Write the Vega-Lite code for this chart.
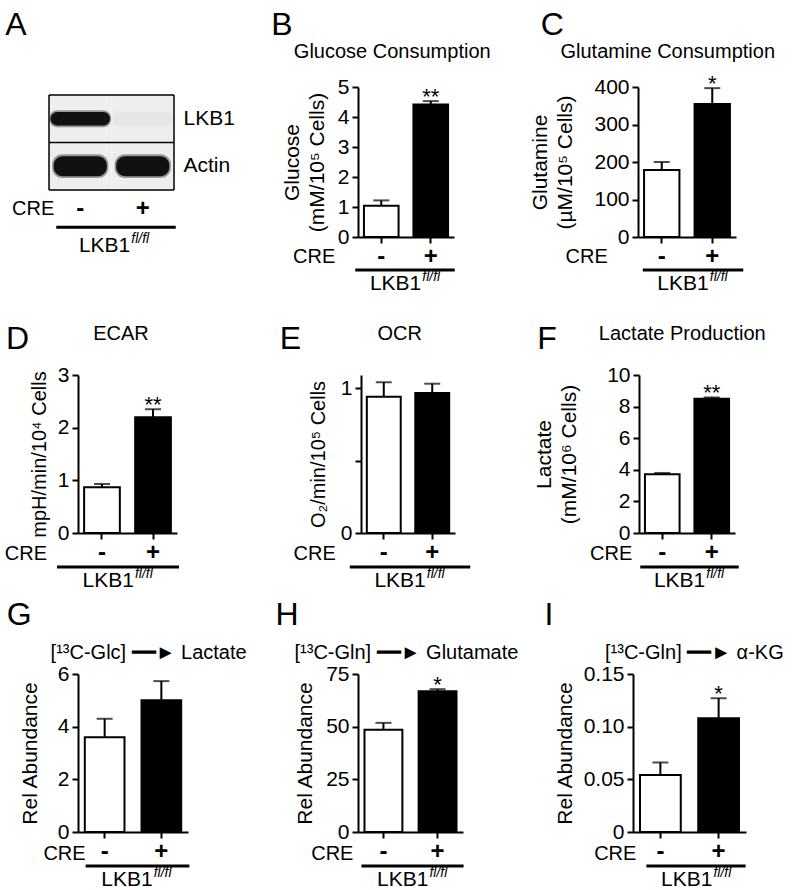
{
"$schema": "https://vega.github.io/schema/vega-lite/v6.json",
"background": "white",
"padding": {"left": 4, "top": 9, "right": 2, "bottom": 2},
"config": {
  "font": "Liberation Sans",
  "view": {"stroke": null},
  "text": {"color": "black", "font": "Liberation Sans"},
  "axis": {"grid": false, "domainColor": "black", "domainWidth": 2, "tickColor": "black", "tickWidth": 2, "tickSize": 6, "labelColor": "black", "titleColor": "black", "titleFontWeight": "normal", "labelFont": "Liberation Sans", "titleFont": "Liberation Sans", "labelOverlap": false, "labelFlush": false},
  "axisX": {"labelAngle": 0, "labelFontSize": 24, "labelFontWeight": "bold", "labelBaseline": "alphabetic", "labelPadding": 20},
  "axisY": {"labelFontSize": 21, "labelPadding": 3, "titleFontSize": 21, "titlePadding": 16, "titleLineHeight": 25}
},
"datasets": {
  "bars": [
    {"panel": "B", "cre": "-", "value": 1.04, "err": 1.22, "sig": ""},
    {"panel": "B", "cre": "+", "value": 4.42, "err": 4.53, "sig": "**"},
    {"panel": "C", "cre": "-", "value": 179, "err": 200, "sig": ""},
    {"panel": "C", "cre": "+", "value": 355, "err": 397, "sig": "*"},
    {"panel": "D", "cre": "-", "value": 0.87, "err": 0.93, "sig": ""},
    {"panel": "D", "cre": "+", "value": 2.2, "err": 2.35, "sig": "**"},
    {"panel": "E", "cre": "-", "value": 0.94, "err": 1.04, "sig": ""},
    {"panel": "E", "cre": "+", "value": 0.965, "err": 1.03, "sig": ""},
    {"panel": "F", "cre": "-", "value": 3.72, "err": 3.8, "sig": ""},
    {"panel": "F", "cre": "+", "value": 8.5, "err": 8.58, "sig": "**"},
    {"panel": "G", "cre": "-", "value": 3.6, "err": 4.3, "sig": ""},
    {"panel": "G", "cre": "+", "value": 5.0, "err": 5.73, "sig": ""},
    {"panel": "H", "cre": "-", "value": 48.5, "err": 51.8, "sig": ""},
    {"panel": "H", "cre": "+", "value": 66.8, "err": 67.8, "sig": "*"},
    {"panel": "I", "cre": "-", "value": 0.054, "err": 0.066, "sig": ""},
    {"panel": "I", "cre": "+", "value": 0.108, "err": 0.127, "sig": "*"}
  ],
  "blot": [
    {"protein": "LKB1", "cre": "-", "signal": 1},
    {"protein": "LKB1", "cre": "+", "signal": 0.03},
    {"protein": "Actin", "cre": "-", "signal": 1},
    {"protein": "Actin", "cre": "+", "signal": 1}
  ]
},
"bounds": "full",
"spacing": 29,
"vconcat": [
{
"bounds": "full",
"spacing": 10,
"vconcat": [
{
"bounds": "flush",
"spacing": 184,
"hconcat": [
{
  "width": 96, "height": 103,
  "layer": [
    {
      "data": {"name": "blot"},
      "encoding": {
        "x": {"field": "cre", "type": "nominal", "scale": {"domain": ["-", "+"], "range": [-29, 96], "paddingInner": 0, "paddingOuter": 0}, "axis": {"title": null, "domain": false, "ticks": false, "tickSize": 0, "labelPadding": 25}},
        "y": {"field": "protein", "type": "nominal", "scale": {"domain": ["LKB1", "Actin"], "paddingInner": 0, "paddingOuter": 0.084, "align": 1}, "axis": {"orient": "right", "title": null, "domain": false, "ticks": false, "tickSize": 0, "labelPadding": 9, "labelFontSize": 21, "labelAlign": "left"}}
      },
      "layer": [
        {"mark": {"type": "rect", "fill": "#eeeeee"}},
        {"transform": [{"filter": "datum.protein == 'LKB1'"}],
         "mark": {"type": "rect", "cornerRadius": 8, "width": {"band": 0.99}, "height": {"band": 0.36}, "opacity": 0.4},
         "encoding": {"fill": {"field": "signal", "type": "quantitative", "scale": {"domain": [0, 1], "range": ["#eeeeee", "#111111"]}, "legend": null}}},
        {"transform": [{"filter": "datum.protein == 'LKB1'"}],
         "mark": {"type": "rect", "cornerRadius": 7, "width": {"band": 0.95}, "height": {"band": 0.28}},
         "encoding": {"fill": {"field": "signal", "type": "quantitative", "legend": null}}},
        {"transform": [{"filter": "datum.protein == 'Actin'"}],
         "mark": {"type": "rect", "cornerRadius": 10, "width": {"band": 0.9}, "height": {"band": 0.5}, "opacity": 0.4},
         "encoding": {"fill": {"field": "signal", "type": "quantitative", "legend": null}}},
        {"transform": [{"filter": "datum.protein == 'Actin'"}],
         "mark": {"type": "rect", "cornerRadius": 9, "width": {"band": 0.85}, "height": {"band": 0.42}},
         "encoding": {"fill": {"field": "signal", "type": "quantitative", "legend": null}}}
      ]
    },
    {
      "data": {"values": [{"letter": "A", "crelab": "CRE", "geno": "LKB1", "sup": "fl/fl"}]},
      "layer": [
        {"mark": {"type": "rule", "color": "black", "strokeWidth": 1.5, "xOffset": -31.25, "x2Offset": 31.25, "yOffset": -23.75}, "encoding": {"x": {"datum": "-"}, "x2": {"datum": "+"}, "y": {"datum": "LKB1"}}},
        {"mark": {"type": "rule", "color": "black", "strokeWidth": 1.5, "xOffset": -31.25, "x2Offset": 31.25, "yOffset": -23.75}, "encoding": {"x": {"datum": "-"}, "x2": {"datum": "+"}, "y": {"datum": "Actin"}}},
        {"mark": {"type": "rule", "color": "black", "strokeWidth": 1.5, "xOffset": -31.25, "x2Offset": 31.25, "yOffset": 23.75}, "encoding": {"x": {"datum": "-"}, "x2": {"datum": "+"}, "y": {"datum": "Actin"}}},
        {"mark": {"type": "rule", "color": "black", "strokeWidth": 1.5, "xOffset": -31.25, "yOffset": -23.75, "y2Offset": 23.75}, "encoding": {"x": {"datum": "-"}, "y": {"datum": "LKB1"}, "y2": {"datum": "Actin"}}},
        {"mark": {"type": "rule", "color": "black", "strokeWidth": 1.5, "xOffset": 31.25, "yOffset": -23.75, "y2Offset": 23.75}, "encoding": {"x": {"datum": "+"}, "y": {"datum": "LKB1"}, "y2": {"datum": "Actin"}}},
        {"mark": {"type": "text", "fontSize": 32, "align": "left", "baseline": "alphabetic", "dx": -75, "dy": -131}, "encoding": {"x": {"datum": "-"}, "y": {"datum": "Actin"}, "text": {"field": "letter"}}},
        {"mark": {"type": "text", "fontSize": 20, "align": "right", "baseline": "alphabetic", "dx": -26, "dy": 49}, "encoding": {"x": {"datum": "-"}, "y": {"datum": "Actin"}, "text": {"field": "crelab"}}},
        {"mark": {"type": "rule", "color": "black", "strokeWidth": 3, "xOffset": -24, "x2Offset": 33, "yOffset": 61}, "encoding": {"x": {"datum": "-"}, "x2": {"datum": "+"}, "y": {"datum": "Actin"}}},
        {"mark": {"type": "text", "fontSize": 21, "align": "right", "baseline": "alphabetic", "dx": 50, "dy": 86}, "encoding": {"x": {"datum": "-"}, "y": {"datum": "Actin"}, "text": {"field": "geno"}}},
        {"mark": {"type": "text", "fontSize": 14, "fontStyle": "italic", "align": "left", "baseline": "alphabetic", "dx": 51, "dy": 77}, "encoding": {"x": {"datum": "-"}, "y": {"datum": "Actin"}, "text": {"field": "sup"}}}
      ]
    }
  ]
},
{
  "width": 96, "height": 150,
  "layer": [
    {
      "data": {"name": "bars"},
      "transform": [{"filter": "datum.panel == 'B'"}],
      "encoding": {"x": {"field": "cre", "type": "nominal", "sort": null, "scale": {"domain": ["-", "+"], "paddingInner": 0.3, "paddingOuter": 0.12}, "axis": {"title": null}}},
      "layer": [
        {"mark": {"type": "bar", "stroke": "black", "strokeWidth": 2},
         "encoding": {"y": {"field": "value", "type": "quantitative", "scale": {"domain": [0, 5], "nice": false}, "axis": {"values": [0, 1, 2, 3, 4, 5], "format": "d", "tickCount": 12, "labelOverlap": false, "titlePadding": 10, "title": ["Glucose", "(mM/10⁵ Cells)"]}},
                      "fill": {"field": "cre", "type": "nominal", "scale": {"domain": ["-", "+"], "range": ["white", "black"]}, "legend": null}}},
        {"mark": {"type": "rule", "color": "black", "strokeWidth": 2}, "encoding": {"y": {"field": "value", "type": "quantitative"}, "y2": {"field": "err"}}},
        {"mark": {"type": "tick", "color": "black", "thickness": 2, "size": 16}, "encoding": {"y": {"field": "err", "type": "quantitative"}}},
        {"mark": {"type": "text", "fontSize": 22, "baseline": "alphabetic", "dy": 3}, "encoding": {"y": {"field": "err", "type": "quantitative"}, "text": {"field": "sig"}}}
      ]
    },
    {
      "data": {"values": [{"letter": "B", "heading": "Glucose Consumption", "crelab": "CRE", "geno": "LKB1", "sup": "fl/fl"}]},
      "layer": [
        {"mark": {"type": "text", "fontSize": 32, "align": "left", "baseline": "alphabetic", "dx": -110, "dy": -52}, "encoding": {"x": {"datum": "-"}, "y": {"datum": 5}, "text": {"field": "letter"}}},
        {"mark": {"type": "text", "fontSize": 20, "align": "center", "baseline": "alphabetic", "dx": 11, "dy": -29}, "encoding": {"x": {"datum": "-"}, "y": {"datum": 5}, "text": {"field": "heading"}}},
        {"mark": {"type": "text", "fontSize": 20, "align": "right", "baseline": "alphabetic", "dx": -46, "dy": 26}, "encoding": {"x": {"datum": "-"}, "y": {"datum": 0}, "text": {"field": "crelab"}}},
        {"mark": {"type": "rule", "color": "black", "strokeWidth": 3, "xOffset": -26, "x2Offset": 24, "yOffset": 33}, "encoding": {"x": {"datum": "-"}, "x2": {"datum": "+"}, "y": {"datum": 0}}},
        {"mark": {"type": "text", "fontSize": 21, "align": "right", "baseline": "alphabetic", "dx": 40, "dy": 53}, "encoding": {"x": {"datum": "-"}, "y": {"datum": 0}, "text": {"field": "geno"}}},
        {"mark": {"type": "text", "fontSize": 14, "fontStyle": "italic", "align": "left", "baseline": "alphabetic", "dx": 41, "dy": 44}, "encoding": {"x": {"datum": "-"}, "y": {"datum": 0}, "text": {"field": "sup"}}}
      ]
    }
  ]
},
{
  "width": 98, "height": 150,
  "layer": [
    {
      "data": {"name": "bars"},
      "transform": [{"filter": "datum.panel == 'C'"}],
      "encoding": {"x": {"field": "cre", "type": "nominal", "sort": null, "scale": {"domain": ["-", "+"], "paddingInner": 0.3, "paddingOuter": 0.12}, "axis": {"title": null}}},
      "layer": [
        {"mark": {"type": "bar", "stroke": "black", "strokeWidth": 2},
         "encoding": {"y": {"field": "value", "type": "quantitative", "scale": {"domain": [0, 400], "nice": false}, "axis": {"values": [0, 100, 200, 300, 400], "format": "d", "tickCount": 12, "labelOverlap": false, "titlePadding": 18, "title": ["Glutamine", "(µM/10⁵ Cells)"]}},
                      "fill": {"field": "cre", "type": "nominal", "scale": {"domain": ["-", "+"], "range": ["white", "black"]}, "legend": null}}},
        {"mark": {"type": "rule", "color": "black", "strokeWidth": 2}, "encoding": {"y": {"field": "value", "type": "quantitative"}, "y2": {"field": "err"}}},
        {"mark": {"type": "tick", "color": "black", "thickness": 2, "size": 16}, "encoding": {"y": {"field": "err", "type": "quantitative"}}},
        {"mark": {"type": "text", "fontSize": 22, "baseline": "alphabetic", "dy": 3}, "encoding": {"y": {"field": "err", "type": "quantitative"}, "text": {"field": "sig"}}}
      ]
    },
    {
      "data": {"values": [{"letter": "C", "heading": "Glutamine Consumption", "crelab": "CRE", "geno": "LKB1", "sup": "fl/fl"}]},
      "layer": [
        {"mark": {"type": "text", "fontSize": 32, "align": "left", "baseline": "alphabetic", "dx": -121, "dy": -52}, "encoding": {"x": {"datum": "-"}, "y": {"datum": 400}, "text": {"field": "letter"}}},
        {"mark": {"type": "text", "fontSize": 20, "align": "center", "baseline": "alphabetic", "dx": 6, "dy": -29}, "encoding": {"x": {"datum": "-"}, "y": {"datum": 400}, "text": {"field": "heading"}}},
        {"mark": {"type": "text", "fontSize": 20, "align": "right", "baseline": "alphabetic", "dx": -54, "dy": 26}, "encoding": {"x": {"datum": "-"}, "y": {"datum": 0}, "text": {"field": "crelab"}}},
        {"mark": {"type": "rule", "color": "black", "strokeWidth": 3, "xOffset": -19, "x2Offset": 31, "yOffset": 33}, "encoding": {"x": {"datum": "-"}, "x2": {"datum": "+"}, "y": {"datum": 0}}},
        {"mark": {"type": "text", "fontSize": 21, "align": "right", "baseline": "alphabetic", "dx": 47, "dy": 53}, "encoding": {"x": {"datum": "-"}, "y": {"datum": 0}, "text": {"field": "geno"}}},
        {"mark": {"type": "text", "fontSize": 14, "fontStyle": "italic", "align": "left", "baseline": "alphabetic", "dx": 48, "dy": 44}, "encoding": {"x": {"datum": "-"}, "y": {"datum": 0}, "text": {"field": "sup"}}}
      ]
    }
  ]
}
]
}
]
},
{
"bounds": "full",
"spacing": 8,
"vconcat": [
{
"bounds": "flush",
"spacing": 184,
"hconcat": [
{
  "width": 99, "height": 158,
  "layer": [
    {
      "data": {"name": "bars"},
      "transform": [{"filter": "datum.panel == 'D'"}],
      "encoding": {"x": {"field": "cre", "type": "nominal", "sort": null, "scale": {"domain": ["-", "+"], "paddingInner": 0.3, "paddingOuter": 0.12}, "axis": {"title": null}}},
      "layer": [
        {"mark": {"type": "bar", "stroke": "black", "strokeWidth": 2},
         "encoding": {"y": {"field": "value", "type": "quantitative", "scale": {"domain": [0, 3], "nice": false}, "axis": {"values": [0, 1, 2, 3], "format": "d", "tickCount": 12, "labelOverlap": false, "titlePadding": 8, "titleFontSize": 20, "title": "mpH/min/10⁴ Cells"}},
                      "fill": {"field": "cre", "type": "nominal", "scale": {"domain": ["-", "+"], "range": ["white", "black"]}, "legend": null}}},
        {"mark": {"type": "rule", "color": "black", "strokeWidth": 2}, "encoding": {"y": {"field": "value", "type": "quantitative"}, "y2": {"field": "err"}}},
        {"mark": {"type": "tick", "color": "black", "thickness": 2, "size": 16}, "encoding": {"y": {"field": "err", "type": "quantitative"}}},
        {"mark": {"type": "text", "fontSize": 22, "baseline": "alphabetic", "dy": 3}, "encoding": {"y": {"field": "err", "type": "quantitative"}, "text": {"field": "sig"}}}
      ]
    },
    {
      "data": {"values": [{"letter": "D", "heading": "ECAR", "crelab": "CRE", "geno": "LKB1", "sup": "fl/fl"}]},
      "layer": [
        {"mark": {"type": "text", "fontSize": 32, "align": "left", "baseline": "alphabetic", "dx": -96, "dy": -26}, "encoding": {"x": {"datum": "-"}, "y": {"datum": 3}, "text": {"field": "letter"}}},
        {"mark": {"type": "text", "fontSize": 20, "align": "center", "baseline": "alphabetic", "dx": 19, "dy": -35}, "encoding": {"x": {"datum": "-"}, "y": {"datum": 3}, "text": {"field": "heading"}}},
        {"mark": {"type": "text", "fontSize": 20, "align": "right", "baseline": "alphabetic", "dx": -55, "dy": 27}, "encoding": {"x": {"datum": "-"}, "y": {"datum": 0}, "text": {"field": "crelab"}}},
        {"mark": {"type": "rule", "color": "black", "strokeWidth": 3, "xOffset": -45, "x2Offset": 26, "yOffset": 34}, "encoding": {"x": {"datum": "-"}, "x2": {"datum": "+"}, "y": {"datum": 0}}},
        {"mark": {"type": "text", "fontSize": 21, "align": "right", "baseline": "alphabetic", "dx": 32, "dy": 54}, "encoding": {"x": {"datum": "-"}, "y": {"datum": 0}, "text": {"field": "geno"}}},
        {"mark": {"type": "text", "fontSize": 14, "fontStyle": "italic", "align": "left", "baseline": "alphabetic", "dx": 33, "dy": 45}, "encoding": {"x": {"datum": "-"}, "y": {"datum": 0}, "text": {"field": "sup"}}}
      ]
    }
  ]
},
{
  "width": 94, "height": 158,
  "layer": [
    {
      "data": {"name": "bars"},
      "transform": [{"filter": "datum.panel == 'E'"}],
      "encoding": {"x": {"field": "cre", "type": "nominal", "sort": null, "scale": {"domain": ["-", "+"], "paddingInner": 0.3, "paddingOuter": 0.12}, "axis": {"title": null}}},
      "layer": [
        {"mark": {"type": "bar", "stroke": "black", "strokeWidth": 2},
         "encoding": {"y": {"field": "value", "type": "quantitative", "scale": {"domain": [0, 1.09], "nice": false}, "axis": {"values": [0, 0.5, 1], "tickCount": 12, "labelOverlap": false, "labelExpr": "datum.value == 0.5 ? '' : format(datum.value, 'd')", "titlePadding": 12, "titleFontSize": 20, "title": "O₂/min/10⁵ Cells"}},
                      "fill": {"field": "cre", "type": "nominal", "scale": {"domain": ["-", "+"], "range": ["white", "black"]}, "legend": null}}},
        {"mark": {"type": "rule", "color": "black", "strokeWidth": 2}, "encoding": {"y": {"field": "value", "type": "quantitative"}, "y2": {"field": "err"}}},
        {"mark": {"type": "tick", "color": "black", "thickness": 2, "size": 16}, "encoding": {"y": {"field": "err", "type": "quantitative"}}}
      ]
    },
    {
      "data": {"values": [{"letter": "E", "heading": "OCR", "crelab": "CRE", "geno": "LKB1", "sup": "fl/fl"}]},
      "layer": [
        {"mark": {"type": "text", "fontSize": 32, "align": "left", "baseline": "alphabetic", "dx": -104, "dy": -26}, "encoding": {"x": {"datum": "-"}, "y": {"datum": 1.09}, "text": {"field": "letter"}}},
        {"mark": {"type": "text", "fontSize": 20, "align": "center", "baseline": "alphabetic", "dx": 16, "dy": -35}, "encoding": {"x": {"datum": "-"}, "y": {"datum": 1.09}, "text": {"field": "heading"}}},
        {"mark": {"type": "text", "fontSize": 20, "align": "right", "baseline": "alphabetic", "dx": -48, "dy": 27}, "encoding": {"x": {"datum": "-"}, "y": {"datum": 0}, "text": {"field": "crelab"}}},
        {"mark": {"type": "rule", "color": "black", "strokeWidth": 3, "xOffset": -34, "x2Offset": 38, "yOffset": 34}, "encoding": {"x": {"datum": "-"}, "x2": {"datum": "+"}, "y": {"datum": 0}}},
        {"mark": {"type": "text", "fontSize": 21, "align": "right", "baseline": "alphabetic", "dx": 42, "dy": 54}, "encoding": {"x": {"datum": "-"}, "y": {"datum": 0}, "text": {"field": "geno"}}},
        {"mark": {"type": "text", "fontSize": 14, "fontStyle": "italic", "align": "left", "baseline": "alphabetic", "dx": 43, "dy": 45}, "encoding": {"x": {"datum": "-"}, "y": {"datum": 0}, "text": {"field": "sup"}}}
      ]
    }
  ]
},
{
  "width": 96, "height": 158,
  "layer": [
    {
      "data": {"name": "bars"},
      "transform": [{"filter": "datum.panel == 'F'"}],
      "encoding": {"x": {"field": "cre", "type": "nominal", "sort": null, "scale": {"domain": ["-", "+"], "paddingInner": 0.3, "paddingOuter": 0.12}, "axis": {"title": null}}},
      "layer": [
        {"mark": {"type": "bar", "stroke": "black", "strokeWidth": 2},
         "encoding": {"y": {"field": "value", "type": "quantitative", "scale": {"domain": [0, 10], "nice": false}, "axis": {"values": [0, 2, 4, 6, 8, 10], "format": "d", "tickCount": 12, "labelOverlap": false, "titlePadding": 27, "title": ["Lactate", "(mM/10⁶ Cells)"]}},
                      "fill": {"field": "cre", "type": "nominal", "scale": {"domain": ["-", "+"], "range": ["white", "black"]}, "legend": null}}},
        {"mark": {"type": "rule", "color": "black", "strokeWidth": 2}, "encoding": {"y": {"field": "value", "type": "quantitative"}, "y2": {"field": "err"}}},
        {"mark": {"type": "tick", "color": "black", "thickness": 2, "size": 16}, "encoding": {"y": {"field": "err", "type": "quantitative"}}},
        {"mark": {"type": "text", "fontSize": 22, "baseline": "alphabetic", "dy": 3}, "encoding": {"y": {"field": "err", "type": "quantitative"}, "text": {"field": "sig"}}}
      ]
    },
    {
      "data": {"values": [{"letter": "F", "heading": "Lactate Production", "crelab": "CRE", "geno": "LKB1", "sup": "fl/fl"}]},
      "layer": [
        {"mark": {"type": "text", "fontSize": 32, "align": "left", "baseline": "alphabetic", "dx": -125, "dy": -26}, "encoding": {"x": {"datum": "-"}, "y": {"datum": 10}, "text": {"field": "letter"}}},
        {"mark": {"type": "text", "fontSize": 20, "align": "center", "baseline": "alphabetic", "dx": 20, "dy": -35}, "encoding": {"x": {"datum": "-"}, "y": {"datum": 10}, "text": {"field": "heading"}}},
        {"mark": {"type": "text", "fontSize": 20, "align": "right", "baseline": "alphabetic", "dx": -30, "dy": 27}, "encoding": {"x": {"datum": "-"}, "y": {"datum": 0}, "text": {"field": "crelab"}}},
        {"mark": {"type": "rule", "color": "black", "strokeWidth": 3, "xOffset": -22, "x2Offset": 27, "yOffset": 34}, "encoding": {"x": {"datum": "-"}, "x2": {"datum": "+"}, "y": {"datum": 0}}},
        {"mark": {"type": "text", "fontSize": 21, "align": "right", "baseline": "alphabetic", "dx": 43, "dy": 54}, "encoding": {"x": {"datum": "-"}, "y": {"datum": 0}, "text": {"field": "geno"}}},
        {"mark": {"type": "text", "fontSize": 14, "fontStyle": "italic", "align": "left", "baseline": "alphabetic", "dx": 44, "dy": 45}, "encoding": {"x": {"datum": "-"}, "y": {"datum": 0}, "text": {"field": "sup"}}}
      ]
    }
  ]
}
]
},
{
"bounds": "flush",
"spacing": 170,
"hconcat": [
{
  "width": 110, "height": 158,
  "layer": [
    {
      "data": {"name": "bars"},
      "transform": [{"filter": "datum.panel == 'G'"}],
      "encoding": {"x": {"field": "cre", "type": "nominal", "sort": null, "scale": {"domain": ["-", "+"], "paddingInner": 0.3, "paddingOuter": 0.12}, "axis": {"title": null}}},
      "layer": [
        {"mark": {"type": "bar", "stroke": "black", "strokeWidth": 2},
         "encoding": {"y": {"field": "value", "type": "quantitative", "scale": {"domain": [0, 6], "nice": false}, "axis": {"values": [0, 2, 4, 6], "format": "d", "tickCount": 12, "labelOverlap": false, "titlePadding": 17, "title": "Rel Abundance"}},
                      "fill": {"field": "cre", "type": "nominal", "scale": {"domain": ["-", "+"], "range": ["white", "black"]}, "legend": null}}},
        {"mark": {"type": "rule", "color": "black", "strokeWidth": 2}, "encoding": {"y": {"field": "value", "type": "quantitative"}, "y2": {"field": "err"}}},
        {"mark": {"type": "tick", "color": "black", "thickness": 2, "size": 16}, "encoding": {"y": {"field": "err", "type": "quantitative"}}}
      ]
    },
    {
      "data": {"values": [{"letter": "G", "heading": "[¹³C-Glc] ━━► Lactate", "crelab": "CRE", "geno": "LKB1", "sup": "fl/fl"}]},
      "layer": [
        {"mark": {"type": "text", "fontSize": 32, "align": "left", "baseline": "alphabetic", "dx": -98, "dy": -49}, "encoding": {"x": {"datum": "-"}, "y": {"datum": 6}, "text": {"field": "letter"}}},
        {"mark": {"type": "text", "fontSize": 20, "align": "center", "baseline": "alphabetic", "dx": 44, "dy": -15}, "encoding": {"x": {"datum": "-"}, "y": {"datum": 6}, "text": {"field": "heading"}}},
        {"mark": {"type": "text", "fontSize": 20, "align": "right", "baseline": "alphabetic", "dx": -19, "dy": 28}, "encoding": {"x": {"datum": "-"}, "y": {"datum": 0}, "text": {"field": "crelab"}}},
        {"mark": {"type": "rule", "color": "black", "strokeWidth": 3, "xOffset": -19, "x2Offset": 28, "yOffset": 34}, "encoding": {"x": {"datum": "-"}, "x2": {"datum": "+"}, "y": {"datum": 0}}},
        {"mark": {"type": "text", "fontSize": 21, "align": "right", "baseline": "alphabetic", "dx": 48, "dy": 54}, "encoding": {"x": {"datum": "-"}, "y": {"datum": 0}, "text": {"field": "geno"}}},
        {"mark": {"type": "text", "fontSize": 14, "fontStyle": "italic", "align": "left", "baseline": "alphabetic", "dx": 49, "dy": 45}, "encoding": {"x": {"datum": "-"}, "y": {"datum": 0}, "text": {"field": "sup"}}}
      ]
    }
  ]
},
{
  "width": 105, "height": 158,
  "layer": [
    {
      "data": {"name": "bars"},
      "transform": [{"filter": "datum.panel == 'H'"}],
      "encoding": {"x": {"field": "cre", "type": "nominal", "sort": null, "scale": {"domain": ["-", "+"], "paddingInner": 0.3, "paddingOuter": 0.12}, "axis": {"title": null}}},
      "layer": [
        {"mark": {"type": "bar", "stroke": "black", "strokeWidth": 2},
         "encoding": {"y": {"field": "value", "type": "quantitative", "scale": {"domain": [0, 75], "nice": false}, "axis": {"values": [0, 25, 50, 75], "format": "d", "tickCount": 12, "labelOverlap": false, "titlePadding": 10, "title": "Rel Abundance"}},
                      "fill": {"field": "cre", "type": "nominal", "scale": {"domain": ["-", "+"], "range": ["white", "black"]}, "legend": null}}},
        {"mark": {"type": "rule", "color": "black", "strokeWidth": 2}, "encoding": {"y": {"field": "value", "type": "quantitative"}, "y2": {"field": "err"}}},
        {"mark": {"type": "tick", "color": "black", "thickness": 2, "size": 16}, "encoding": {"y": {"field": "err", "type": "quantitative"}}},
        {"mark": {"type": "text", "fontSize": 22, "baseline": "alphabetic", "dy": 3}, "encoding": {"y": {"field": "err", "type": "quantitative"}, "text": {"field": "sig"}}}
      ]
    },
    {
      "data": {"values": [{"letter": "H", "heading": "[¹³C-Gln] ━━► Glutamate", "crelab": "CRE", "geno": "LKB1", "sup": "fl/fl"}]},
      "layer": [
        {"mark": {"type": "text", "fontSize": 32, "align": "left", "baseline": "alphabetic", "dx": -108, "dy": -49}, "encoding": {"x": {"datum": "-"}, "y": {"datum": 75}, "text": {"field": "letter"}}},
        {"mark": {"type": "text", "fontSize": 20, "align": "center", "baseline": "alphabetic", "dx": 23, "dy": -15}, "encoding": {"x": {"datum": "-"}, "y": {"datum": 75}, "text": {"field": "heading"}}},
        {"mark": {"type": "text", "fontSize": 20, "align": "right", "baseline": "alphabetic", "dx": -30, "dy": 28}, "encoding": {"x": {"datum": "-"}, "y": {"datum": 0}, "text": {"field": "crelab"}}},
        {"mark": {"type": "rule", "color": "black", "strokeWidth": 3, "xOffset": -22, "x2Offset": 26, "yOffset": 34}, "encoding": {"x": {"datum": "-"}, "x2": {"datum": "+"}, "y": {"datum": 0}}},
        {"mark": {"type": "text", "fontSize": 21, "align": "right", "baseline": "alphabetic", "dx": 45, "dy": 54}, "encoding": {"x": {"datum": "-"}, "y": {"datum": 0}, "text": {"field": "geno"}}},
        {"mark": {"type": "text", "fontSize": 14, "fontStyle": "italic", "align": "left", "baseline": "alphabetic", "dx": 46, "dy": 45}, "encoding": {"x": {"datum": "-"}, "y": {"datum": 0}, "text": {"field": "sup"}}}
      ]
    }
  ]
},
{
  "width": 113, "height": 158,
  "layer": [
    {
      "data": {"name": "bars"},
      "transform": [{"filter": "datum.panel == 'I'"}],
      "encoding": {"x": {"field": "cre", "type": "nominal", "sort": null, "scale": {"domain": ["-", "+"], "paddingInner": 0.3, "paddingOuter": 0.12}, "axis": {"title": null}}},
      "layer": [
        {"mark": {"type": "bar", "stroke": "black", "strokeWidth": 2},
         "encoding": {"y": {"field": "value", "type": "quantitative", "scale": {"domain": [0, 0.15], "nice": false}, "axis": {"values": [0, 0.05, 0.1, 0.15], "tickCount": 12, "labelOverlap": false, "labelExpr": "datum.value == 0 ? '0' : format(datum.value, '.2f')", "titlePadding": 8, "title": "Rel Abundance"}},
                      "fill": {"field": "cre", "type": "nominal", "scale": {"domain": ["-", "+"], "range": ["white", "black"]}, "legend": null}}},
        {"mark": {"type": "rule", "color": "black", "strokeWidth": 2}, "encoding": {"y": {"field": "value", "type": "quantitative"}, "y2": {"field": "err"}}},
        {"mark": {"type": "tick", "color": "black", "thickness": 2, "size": 16}, "encoding": {"y": {"field": "err", "type": "quantitative"}}},
        {"mark": {"type": "text", "fontSize": 22, "baseline": "alphabetic", "dy": 3}, "encoding": {"y": {"field": "err", "type": "quantitative"}, "text": {"field": "sig"}}}
      ]
    },
    {
      "data": {"values": [{"letter": "I", "heading": "[¹³C-Gln] ━━► α-KG", "crelab": "CRE", "geno": "LKB1", "sup": "fl/fl"}]},
      "layer": [
        {"mark": {"type": "text", "fontSize": 32, "align": "left", "baseline": "alphabetic", "dx": -116, "dy": -49}, "encoding": {"x": {"datum": "-"}, "y": {"datum": 0.15}, "text": {"field": "letter"}}},
        {"mark": {"type": "text", "fontSize": 20, "align": "center", "baseline": "alphabetic", "dx": 34, "dy": -15}, "encoding": {"x": {"datum": "-"}, "y": {"datum": 0.15}, "text": {"field": "heading"}}},
        {"mark": {"type": "text", "fontSize": 20, "align": "right", "baseline": "alphabetic", "dx": -24, "dy": 28}, "encoding": {"x": {"datum": "-"}, "y": {"datum": 0}, "text": {"field": "crelab"}}},
        {"mark": {"type": "rule", "color": "black", "strokeWidth": 3, "xOffset": -14, "x2Offset": 27, "yOffset": 34}, "encoding": {"x": {"datum": "-"}, "x2": {"datum": "+"}, "y": {"datum": 0}}},
        {"mark": {"type": "text", "fontSize": 21, "align": "right", "baseline": "alphabetic", "dx": 52, "dy": 54}, "encoding": {"x": {"datum": "-"}, "y": {"datum": 0}, "text": {"field": "geno"}}},
        {"mark": {"type": "text", "fontSize": 14, "fontStyle": "italic", "align": "left", "baseline": "alphabetic", "dx": 53, "dy": 45}, "encoding": {"x": {"datum": "-"}, "y": {"datum": 0}, "text": {"field": "sup"}}}
      ]
    }
  ]
}
]
}
]
}
]
}
